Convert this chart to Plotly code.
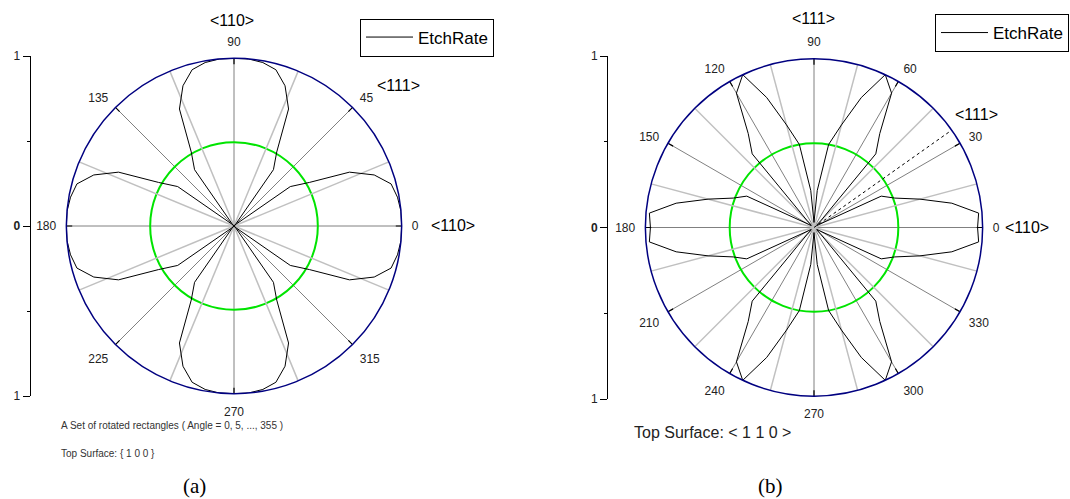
import plotly.graph_objects as go

W, H = 1070, 499

# ---------------- data ----------------
angles = [0, 5, 10, 15, 20, 25, 30, 35, 40, 45, 50, 55, 60, 65, 70, 75, 80, 85,
          90, 95, 100, 105, 110, 115, 120, 125, 130, 135, 140, 145, 150, 155, 160, 165, 170, 175,
          180, 185, 190, 195, 200, 205, 210, 215, 220, 225, 230, 235, 240, 245, 250, 255, 260, 265,
          270, 275, 280, 285, 290, 295, 300, 305, 310, 315, 320, 325, 330, 335, 340, 345, 350, 355]

# (a) Top surface {1 0 0}
etch_a = [1.00, 1.00, 0.99, 0.97, 0.89, 0.76, 0.52, 0.41, 0.02, 0.00, 0.02, 0.41, 0.51, 0.77, 0.89, 0.965, 0.99, 1.00,
          1.00, 1.00, 0.99, 0.965, 0.89, 0.77, 0.51, 0.41, 0.02, 0.00, 0.02, 0.41, 0.52, 0.76, 0.89, 0.97, 0.99, 1.00,
          1.00, 1.00, 0.99, 0.97, 0.89, 0.76, 0.52, 0.41, 0.02, 0.00, 0.02, 0.41, 0.51, 0.77, 0.89, 0.965, 0.99, 1.00,
          1.00, 1.00, 0.99, 0.965, 0.89, 0.77, 0.51, 0.41, 0.02, 0.00, 0.02, 0.41, 0.52, 0.76, 0.89, 0.97, 0.99, 1.00]

# (b) Top surface <1 1 0>
etch_b = [0.97, 0.98, 0.83, 0.65, 0.51, 0.44, 0.04, 0.02, 0.02, 0.06, 0.57, 0.68, 0.92, 1.00, 0.82, 0.63, 0.50, 0.22,
          0.03, 0.22, 0.50, 0.63, 0.82, 1.00, 0.92, 0.68, 0.57, 0.06, 0.02, 0.02, 0.04, 0.44, 0.51, 0.65, 0.83, 0.98,
          0.97, 0.98, 0.83, 0.65, 0.51, 0.44, 0.04, 0.02, 0.02, 0.06, 0.57, 0.68, 0.92, 1.00, 0.82, 0.63, 0.50, 0.22,
          0.03, 0.22, 0.50, 0.63, 0.82, 1.00, 0.92, 0.68, 0.57, 0.06, 0.02, 0.02, 0.04, 0.44, 0.51, 0.65, 0.83, 0.98]

ticks_a = [0, 45, 90, 135, 180, 225, 270, 315]
ticks_b = [0, 30, 60, 90, 120, 150, 180, 210, 240, 270, 300, 330]
light_spokes_a = [22.5, 67.5, 112.5, 157.5, 202.5, 247.5, 292.5, 337.5]
light_spokes_b = [15, 45, 75, 105, 135, 165, 195, 225, 255, 285, 315, 345]
dir111_b = [35.26]
ref_circle = [0.5]
radial_ticks = [-1, 0, 1]
radial_ticktext = ["1", "<b>0</b>", "1"]
rim_tick_r = [0.965, 1.0]

SANS = "Liberation Sans, Arial, sans-serif"
SERIF = "Liberation Serif, Times New Roman, serif"

# the captured picture is slightly squeezed vertically; positions below are
# given in picture pixels and converted to figure pixels here
V_OFF, V_SCALE = 7.0, 485.0 / 499.0


def px(x):
    return x / W


def fyp(y_img):
    return (y_img - V_OFF) / V_SCALE


def py(y_img):
    return 1 - fyp(y_img) / H


def spokes(ang, subplot, color, width, dash="solid", radii=(0, 1)):
    r, t = [], []
    for a in ang:
        r += [radii[0], radii[1], None]
        t += [a, a, None]
    return go.Scatterpolar(r=r, theta=t, mode="lines", subplot=subplot,
                           line=dict(color=color, width=width, dash=dash),
                           showlegend=False, hoverinfo="skip")


def circle_domain(cx, cy_img, d):
    cy = fyp(cy_img)
    return dict(x=[(cx - d / 2) / W, (cx + d / 2) / W],
                y=[1 - (cy + d / 2) / H, 1 - (cy - d / 2) / H])


fig = go.Figure()

fig.add_trace(spokes(light_spokes_a, "polar", "#c0c0c0", 1.5))
fig.add_trace(spokes(ticks_a, "polar", "black", 1.2, radii=rim_tick_r))
fig.add_trace(go.Scatterpolar(r=etch_a + [etch_a[0]], theta=angles + [angles[0]], mode="lines",
                              name="EtchRate", subplot="polar", legend="legend",
                              line=dict(color="black", width=1)))

fig.add_trace(spokes(light_spokes_b, "polar2", "#c0c0c0", 1.5))
fig.add_trace(spokes(ticks_b, "polar2", "black", 1.2, radii=rim_tick_r))
fig.add_trace(spokes(dir111_b, "polar2", "black", 1, "dot"))
fig.add_trace(go.Scatterpolar(r=etch_b + [etch_b[0]], theta=angles + [angles[0]], mode="lines",
                              name="EtchRate", subplot="polar2", legend="legend2",
                              line=dict(color="black", width=1)))

# dummy traces to materialise the left radial scales
fig.add_trace(go.Scatter(x=[None], y=[None], xaxis="x", yaxis="y", showlegend=False, hoverinfo="skip"))
fig.add_trace(go.Scatter(x=[None], y=[None], xaxis="x2", yaxis="y2", showlegend=False, hoverinfo="skip"))


def polar_layout(domain, ticks):
    return dict(
        domain=domain,
        bgcolor="white",
        radialaxis=dict(range=[0, 1], showline=False, showticklabels=False, ticks="",
                        tickvals=ref_circle, showgrid=True, gridcolor="#00e400", gridwidth=2),
        angularaxis=dict(tickvals=ticks, ticktext=[str(v) for v in ticks],
                         direction="counterclockwise", rotation=0,
                         showline=True, linecolor="#000080", linewidth=1.5,
                         showgrid=True, gridcolor="#808080", gridwidth=1,
                         ticks="outside", ticklen=7, tickcolor="rgba(0,0,0,0)",
                         tickfont=dict(family=SANS, size=12, color="#222")),
    )


def left_axis(y_top, y_bot, anchor):
    return dict(domain=[py(y_bot), py(y_top)], anchor=anchor, range=[-1, 1], tickvals=radial_ticks,
                ticktext=radial_ticktext, ticks="outside", ticklen=7, tickcolor="black",
                showline=True, linecolor="black", linewidth=1, showgrid=False, zeroline=False,
                tickfont=dict(family=SANS, size=12, color="#222"),
                minor=dict(tickvals=[-0.5, 0.5], ticks="outside", ticklen=3, tickcolor="black",
                           showgrid=False),
                fixedrange=True)


def ann(text, x, y, size, xanchor="center", family=SANS, color="black"):
    return dict(text=text, x=px(x), y=py(y), xref="paper", yref="paper", showarrow=False,
                xanchor=xanchor, yanchor="middle", font=dict(family=family, size=size, color=color))


annotations = [
    ann("&lt;110&gt;", 231.5, 20.7, 16),
    ann("&lt;111&gt;", 398, 85.7, 16),
    ann("&lt;110&gt;", 453, 225.7, 16),
    ann("A Set of rotated rectangles ( Angle = 0, 5, ..., 355 )", 59, 425, 10, "left", color="#333"),
    ann("Top Surface: { 1 0 0 }", 59, 453, 10, "left", color="#333"),
    ann("(a)", 194, 485.5, 21, family=SERIF),
    ann("&lt;111&gt;", 813.5, 18.7, 16),
    ann("&lt;111&gt;", 976.5, 114, 16),
    ann("&lt;110&gt;", 1027, 228, 16),
    ann("Top Surface: &lt; 1 1 0 &gt;", 632, 432, 16, "left", color="#222"),
    ann("(b)", 770.5, 485.5, 21, family=SERIF),
]

legend_style = dict(xanchor="left", yanchor="middle", bordercolor="black", borderwidth=1,
                    bgcolor="white", font=dict(family=SANS, size=17, color="black"),
                    itemwidth=47, tracegroupgap=0)

fig.update_layout(
    width=W, height=H, autosize=False,
    margin=dict(l=0, r=0, t=0, b=0),
    paper_bgcolor="white", plot_bgcolor="white",
    polar=polar_layout(circle_domain(234, 226, 345), ticks_a),
    polar2=polar_layout(circle_domain(814, 227.5, 347), ticks_b),
    xaxis=dict(domain=[px(30.5), px(32)], visible=False, range=[0, 1], fixedrange=True),
    yaxis=left_axis(56, 396, "x"),
    xaxis2=dict(domain=[px(608), px(610)], visible=False, range=[0, 1], fixedrange=True),
    yaxis2=left_axis(56, 399, "x2"),
    legend=dict(x=px(360), y=py(37.5), **legend_style),
    legend2=dict(x=px(935), y=py(33), **legend_style),
    annotations=annotations,
    showlegend=True,
)

fig.write_html("out.html", config={"displayModeBar": False},
               post_script="document.body.style.margin='0';")
